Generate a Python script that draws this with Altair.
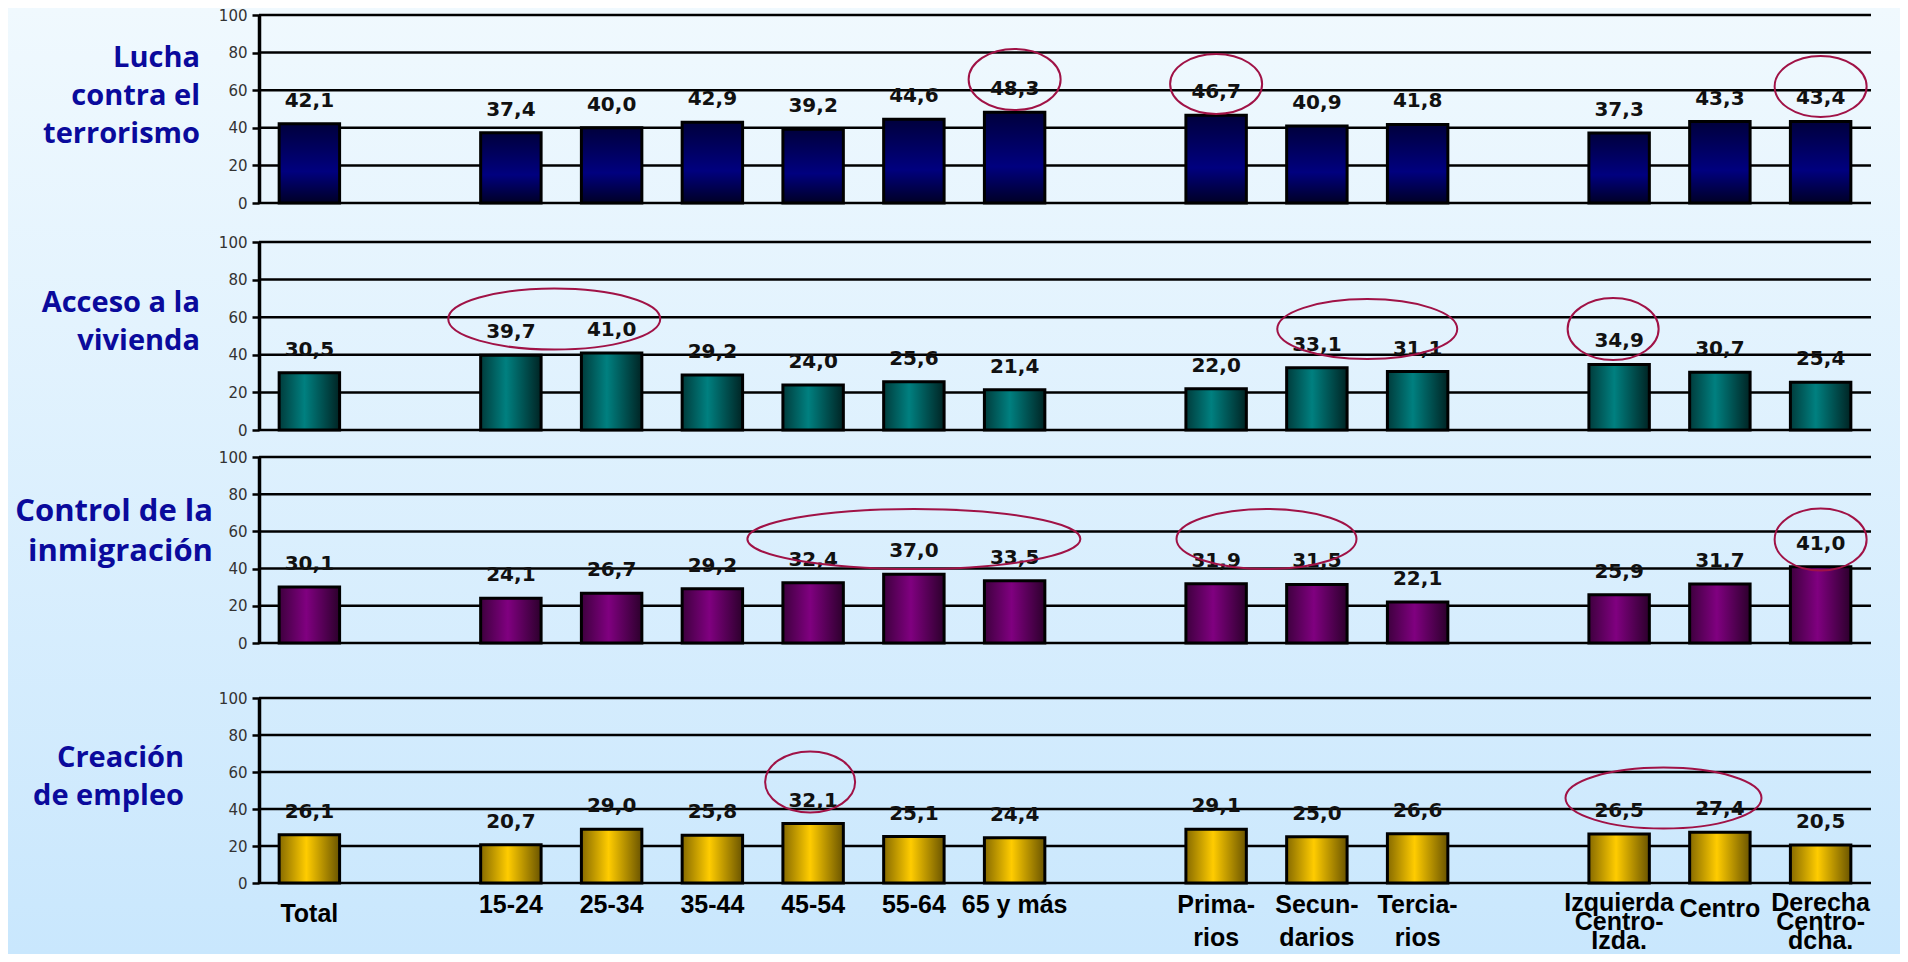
import altair as alt
import pandas as pd

# ---------------- data ----------------
bar_categories = ["Total", "15-24", "25-34", "35-44", "45-54", "55-64", "65 y más",
                  "Prima-\nrios", "Secun-\ndarios", "Tercia-\nrios",
                  "Izquierda\nCentro-\nIzda.", "Centro", "Derecha\nCentro-\ndcha."]
# full x domain incl. empty spacer slots between groups
x_domain = ["Total", "_g1", "15-24", "25-34", "35-44", "45-54", "55-64", "65 y más", "_g2",
            "Prima-\nrios", "Secun-\ndarios", "Tercia-\nrios", "_g3",
            "Izquierda\nCentro-\nIzda.", "Centro", "Derecha\nCentro-\ndcha."]

terrorismo = [42.1, 37.4, 40.0, 42.9, 39.2, 44.6, 48.3, 46.7, 40.9, 41.8, 37.3, 43.3, 43.4]
vivienda = [30.5, 39.7, 41.0, 29.2, 24.0, 25.6, 21.4, 22.0, 33.1, 31.1, 34.9, 30.7, 25.4]
inmigracion = [30.1, 24.1, 26.7, 29.2, 32.4, 37.0, 33.5, 31.9, 31.5, 22.1, 25.9, 31.7, 41.0]
empleo = [26.1, 20.7, 29.0, 25.8, 32.1, 25.1, 24.4, 29.1, 25.0, 26.6, 26.5, 27.4, 20.5]
series = [terrorismo, vivienda, inmigracion, empleo]

panel_titles = ["Lucha\ncontra el\nterrorismo", "Acceso a la\nvivienda",
                "Control de la\ninmigración", "Creación\nde empleo"]
y_ticks = [0, 20, 40, 60, 80, 100]

# highlighted groups: (panel, first category, last category, centre value)
ell_panel = [0, 0, 0, 1, 1, 1, 2, 2, 2, 3, 3]
ell_first = ["65 y más", "Prima-\nrios", "Derecha\nCentro-\ndcha.",
             "15-24", "Secun-\ndarios", "Izquierda\nCentro-\nIzda.",
             "45-54", "Prima-\nrios", "Derecha\nCentro-\ndcha.",
             "45-54", "Izquierda\nCentro-\nIzda."]
ell_last = ["65 y más", "Prima-\nrios", "Derecha\nCentro-\ndcha.",
            "25-34", "Tercia-\nrios", "Izquierda\nCentro-\nIzda.",
            "65 y más", "Secun-\ndarios", "Derecha\nCentro-\ndcha.",
            "45-54", "Centro"]
ell_value = [65.7, 63.3, 62.0, 59.0, 53.7, 53.7, 55.9, 55.9, 55.6, 54.6, 45.9]

# ---------------- style ----------------
W = 1612
STEP = W / 16
plot_h = [188, 188, 186, 185]      # height of the 0-100 scale
extra_below = [12, 0, 28, 0]       # extra empty room under a panel
SPACING = 27
ell_w = [92, 92, 92, 212, 180, 91, 333, 180, 92, 90, 196]
ell_h = [61, 60, 61, 61, 60, 62, 60, 60, 62, 61, 61]
ell_dx = [0, 0, 0, -7, 0, -6, 0, 0, 0, -3, -6]
title_x = [-59, -59, -46, -75]
title_y = [43, 61, 55, 60]
title_size = [29, 29, 31, 29]
title_lh = [38, 38, 40, 38]
label_dy = {"Total": 19, "Centro": 14}

def grad_h(c0, c1, c2, mid=0.45):
    return alt.LinearGradient(gradient="linear", x1=0, y1=0, x2=1, y2=0,
                              stops=[alt.GradientStop(offset=0, color=c0),
                                     alt.GradientStop(offset=mid, color=c1),
                                     alt.GradientStop(offset=1, color=c2)])

fills = [
    alt.LinearGradient(gradient="linear", x1=0, y1=0, x2=0, y2=1,
                       stops=[alt.GradientStop(offset=0, color="#00003c"),
                              alt.GradientStop(offset=0.6, color="#00007f"),
                              alt.GradientStop(offset=1, color="#000026")]),
    grad_h("#003c3c", "#008080", "#002424", 0.42),
    grad_h("#3e003e", "#800080", "#2c002c", 0.45),
    grad_h("#866a00", "#ffcc00", "#6a5400", 0.45),
]

bg_fill = alt.LinearGradient(gradient="linear", x1=0, y1=0, x2=0, y2=1,
                             stops=[alt.GradientStop(offset=0, color="#f0f9fe"),
                                    alt.GradientStop(offset=1, color="#c9e7fd")])

ELL_COLOR = "#a01246"
K = 0.5523


def ellipse_path(w, h):
    r = h / w
    return (f"M-1,0C-1,{-K*r:.4f},{-K:.4f},{-r:.4f},0,{-r:.4f}"
            f"C{K:.4f},{-r:.4f},1,{-K*r:.4f},1,0"
            f"C1,{K*r:.4f},{K:.4f},{r:.4f},0,{r:.4f}"
            f"C{-K:.4f},{r:.4f},-1,{K*r:.4f},-1,0Z")


xscale = alt.Scale(domain=x_domain, paddingInner=0.4, paddingOuter=0.2)
yax = alt.Axis(values=y_ticks, grid=False, title=None, domainColor="black", domainWidth=3.5,
               tickColor="black", tickWidth=2.5, tickSize=7, labelFont="DejaVu Sans",
               labelFontSize=15, labelColor="#333333", labelPadding=5, zindex=1)


def panel(i):
    h = plot_h[i]
    yscale = alt.Scale(domain=[0, 100], nice=False, zero=True, range=[h, 0])
    vals = series[i]
    df = pd.DataFrame({"cat": bar_categories, "v": vals,
                       "lbl": [f"{v:.1f}".replace(".", ",") for v in vals]})
    xenc = alt.X("cat:N", scale=xscale, axis=None)
    layers = []
    if i == 0:
        bg = alt.Chart(pd.DataFrame({"a": [0]})).mark_rect(fill=bg_fill).encode(
            x=alt.value(-251), x2=alt.value(W + 29), y=alt.value(-7), y2=alt.value(939))
        layers.append(bg)
    grid = alt.Chart(pd.DataFrame({"t": y_ticks})).mark_rule(color="black", strokeWidth=2.5).encode(
        y=alt.Y("t:Q", scale=yscale, axis=yax))
    bars = alt.Chart(df).mark_bar(fill=fills[i], stroke="black", strokeWidth=3).encode(
        x=xenc, y=alt.Y("v:Q", scale=yscale, axis=yax))
    labels = alt.Chart(df).mark_text(dy=-17, baseline="alphabetic", font="DejaVu Sans",
                                     fontWeight="bold", fontSize=20, color="#111111").encode(
        x=xenc, y=alt.Y("v:Q", scale=yscale, axis=yax), text="lbl:N")
    title = alt.Chart(pd.DataFrame({"t": [panel_titles[i]]})).mark_text(
        align="right", baseline="middle", lineBreak="\n", lineHeight=title_lh[i],
        font="Open Sans", fontWeight="bold", fontSize=title_size[i], color="#0a0a9c").encode(
        x=alt.value(title_x[i]), y=alt.value(title_y[i]), text="t:N")
    layers += [grid, bars, labels, title]

    # ellipses
    for k in range(len(ell_panel)):
        if ell_panel[k] != i:
            continue
        a = x_domain.index(ell_first[k])
        b = x_domain.index(ell_last[k])
        off = ell_dx[k] + (0 if (b - a) % 2 == 0 else STEP / 2)
        row = {"yv": ell_value[k], "path": ellipse_path(ell_w[k], ell_h[k]),
               "s": ell_w[k] ** 2, "cat": x_domain[(a + b) // 2]}
        e = alt.Chart(pd.DataFrame([row])).mark_point(
            filled=False, color=ELL_COLOR, strokeWidth=2, opacity=1, xOffset=off).encode(
            x=xenc, y=alt.Y("yv:Q", scale=yscale, axis=yax),
            shape=alt.Shape("path:N", scale=None), size=alt.Size("s:Q", scale=None))
        layers.append(e)

    if i == 3:
        ideo = ["Izquierda\nCentro-\nIzda.", "Derecha\nCentro-\ndcha."]
        txt = dict(baseline="top", lineBreak="\n", font="Liberation Sans", fontWeight="bold",
                   fontSize=25, color="#000000")
        plain = [c for c in bar_categories if c not in ideo and c not in label_dy]
        layers.append(alt.Chart(pd.DataFrame({"cat": plain})).mark_text(lineHeight=33, **txt).encode(
            x=xenc, y=alt.value(h + 10), text="cat:N"))
        for c, d in label_dy.items():
            layers.append(alt.Chart(pd.DataFrame({"cat": [c]})).mark_text(lineHeight=33, **txt).encode(
                x=xenc, y=alt.value(h + d), text="cat:N"))
        layers.append(alt.Chart(pd.DataFrame({"cat": ideo})).mark_text(lineHeight=19, **txt).encode(
            x=xenc, y=alt.value(h + 8), text="cat:N"))

    return alt.layer(*layers).properties(width=W, height=h + extra_below[i])


p = [panel(i) for i in range(4)]
chart = alt.vconcat(*p, spacing=SPACING, bounds="flush").properties(
    padding={"left": 0, "top": 0, "right": 0, "bottom": 0},
    background="#dcf0fd",
).configure_view(stroke=None)

chart.save("out.html", embed_options={"renderer": "svg", "actions": False})
